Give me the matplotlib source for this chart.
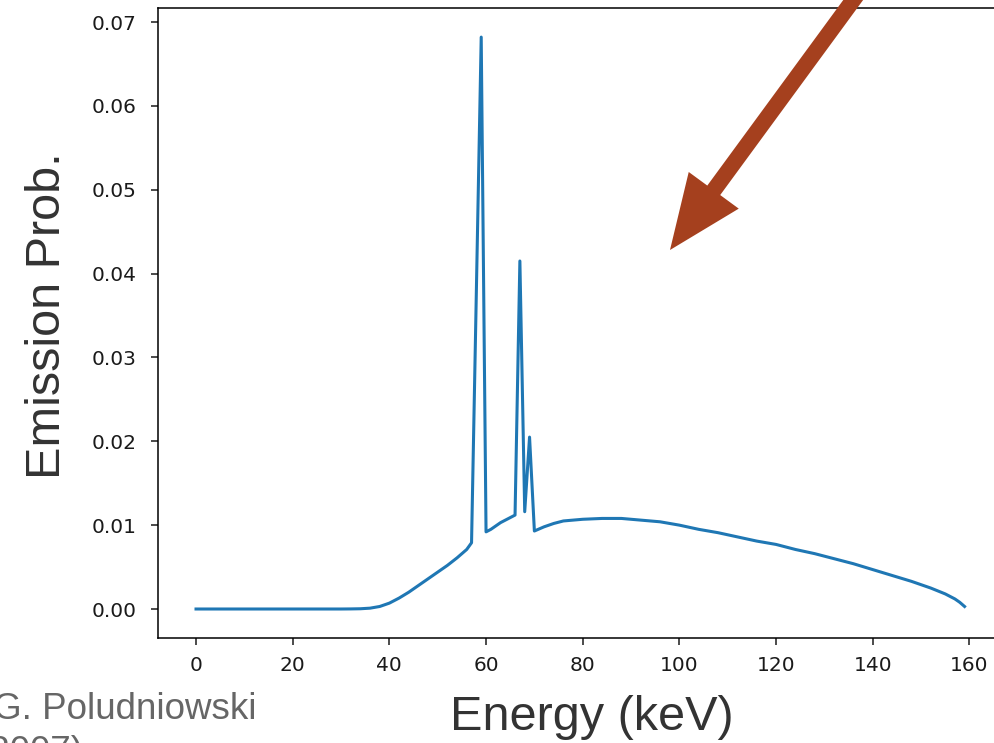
import matplotlib
matplotlib.use('Agg')
from matplotlib import pyplot as plt
from matplotlib.patches import FancyArrow
from matplotlib.transforms import IdentityTransform

# spectrum (keV, emission probability)
energy = [0, 10, 20, 30, 32, 34, 36, 38, 40, 42, 44, 46, 48, 50, 52, 54,
          56, 57, 58, 59, 60, 61, 62, 63, 64, 65, 66, 67, 68, 69, 70, 72,
          74, 76, 78, 80, 84, 88, 92, 96, 100, 104, 108, 112, 116, 120,
          124, 128, 132, 136, 140, 144, 148, 152, 155, 157, 158, 159]
prob = [0.0, 0.0, 0.0, 0.0, 0.00001, 0.00003, 0.0001, 0.0003, 0.0007,
        0.0013, 0.0020, 0.0028, 0.0036, 0.0044, 0.0052, 0.0061, 0.0071,
        0.0079, 0.038, 0.0682, 0.0092, 0.0095, 0.0099, 0.0103, 0.0106,
        0.0109, 0.0112, 0.0415, 0.0116, 0.0205, 0.0093, 0.0098, 0.0102,
        0.0105, 0.0106, 0.0107, 0.0108, 0.0108, 0.0106, 0.0104, 0.0100,
        0.0095, 0.0091, 0.0086, 0.0081, 0.0077, 0.0071, 0.0066, 0.0060,
        0.0054, 0.0047, 0.0040, 0.0033, 0.0025, 0.0018, 0.0012, 0.0008,
        0.0003]

W, H = 994, 743
fig = plt.figure(figsize=(W / 100, H / 100), dpi=100)
# axes run past the right edge, as in the cropped reference
ax = fig.add_axes([157.6 / W, 105.4 / H, (1003 - 157.6) / W, 629.1 / H])
ax.plot(energy, prob, color='#1f77b4', lw=2.2)
ax.set_xticks(range(0, 161, 20))
ax.set_yticks([0.0, 0.01, 0.02, 0.03, 0.04, 0.05, 0.06, 0.07])
ax.yaxis.set_major_formatter(matplotlib.ticker.FormatStrFormatter('%.2f'))
ax.tick_params(labelsize=14.5, length=5, width=1.1, colors='#1a1a1a')
ax.tick_params(axis='x', pad=8)
ax.tick_params(axis='y', pad=10)
ax.spines['right'].set_visible(False)
for s in ax.spines.values():
    s.set_linewidth(1.1)

big = dict(family='Liberation Sans', fontsize=35, color='#333333')
fig.text(48 / W, 1 - 316 / H, 'Emission Prob.', rotation=90,
         ha='center', va='center', **big)
fig.text(592 / W, 1 - 718 / H, 'Energy (keV)', ha='center', va='center',
         **big)

small = dict(family='Liberation Sans', fontsize=26.5, color='#666666')
fig.text(-7 / W, 1 - 719 / H, 'G. Poludniowski', ha='left', va='baseline',
         **small)
fig.text(-22 / W, 1 - 762 / H, '(2007)', ha='left', va='baseline', **small)

# arrow pointing into the plot, in output pixels
x0, y0 = 862, -12
tip_x, tip_y = 670, 250
arrow = FancyArrow(x0, H - y0, tip_x - x0, y0 - tip_y, width=16,
                   head_width=62, head_length=74, length_includes_head=True,
                   transform=IdentityTransform(), facecolor='#a5401e',
                   edgecolor='none')
fig.patches.append(arrow)

fig.savefig('out.png', dpi=100)
